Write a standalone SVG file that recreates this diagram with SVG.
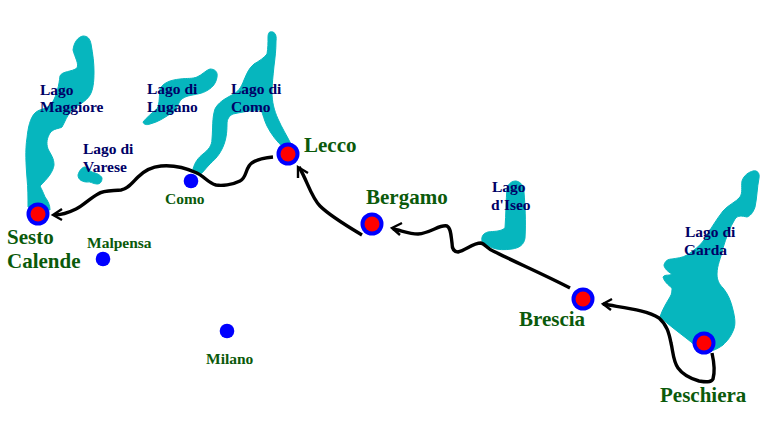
<svg xmlns="http://www.w3.org/2000/svg" width="766" height="436" viewBox="0 0 766 436">
<defs>
<style>
.lake{fill:#06b6be;stroke:#06b6be;stroke-width:1;stroke-linejoin:round}
.lt{font:bold 15.5px "Liberation Serif",serif;fill:#000066}
.sm{font:bold 15.5px "Liberation Serif",serif;fill:#0b5a0b}
.big{font:bold 21px "Liberation Serif",serif;fill:#0b5a0b}
.conn{fill:none;stroke:#000;stroke-width:3.4;stroke-linecap:butt;stroke-linejoin:round}
.head{fill:none;stroke:#000;stroke-width:2.4}
.outer{fill:#0000ff}
.inner{fill:#ff0000}
</style>
</defs>
<rect width="766" height="436" fill="#fff"/>
<g id="lakes">
<path id="lago-maggiore" class="lake" d="M73 50C74 42 78 37 83 36C88 36 90 39 91 44C93 55 94 63 94 72C94 82 93 90 90 95C86 102 76 106 72 110C67 115 65 122 62 127C59 129 54 128 50 133C47 138 46 143 48 149C51 155 54 158 54 165C53 172 48 178 40 186C42 190 43 192 45 197C48 201 50 205 50 210L28 207C28 198 28 188 27 178C26 165 25 150 27 138C28 128 30 118 35 113C40 108 47 110 52 103C57 95 59 85 60 76C62 71 72 72 77 68C79 63 75 58 73 50Z"/>
<path id="lago-lugano" class="lake" d="M143 122C147 117 152 113 157 109C160 103 159 95 160 89C163 83 170 80 180 79C188 78 192 79 197 77C202 75 206 70 210 69C215 69 218 72 217 77C216 83 213 87 208 90C202 94 196 94 188 96C182 98 180 100 178 105C176 110 174 112 170 114C164 118 158 122 150 124C147 125 144 125 143 122Z"/>
<path id="lago-como" class="lake" d="M270 32C274 31 277 34 276 41C276 50 275 58 274 66C273 76 272 84 272 92C272 102 274 110 278 119C282 128 287 136 291 144L284 148C277 142 271 134 267 126C264 120 263 114 261 110C253 110 242 112 233 114C229 116 227 119 227 124C227 133 226 141 222 149C218 157 214 160 209 165C205 169 203 173 199 175C196 175 193 172 193 169C195 162 198 158 203 154C208 150 212 146 212 139C213 128 212 118 215 109C218 103 224 99 232 95C238 92 241 88 244 80C247 73 249 68 254 64C259 61 264 58 267 54C268 48 268 43 268 37C268 34 269 32 270 32Z"/>
<path id="lago-varese" class="lake" d="M78 175C79 171 82 167 85 167C88 168 89 171 92 172C96 173 101 175 102 178C102 182 100 184 97 184C93 184 90 181 87 182C83 182 78 180 78 175Z"/>
<path id="lago-iseo" class="lake" d="M505 228C506 214 506 200 507 188C509 183 512 181 516 181C521 182 524 186 524 192C525 205 526 222 525 238C524 245 519 248 512 249C505 250 498 250 493 248C488 246 484 244 482 241C481 236 484 233 488 232C494 231 500 232 505 228Z"/>
<path id="lago-garda" class="lake" d="M753 171C757 170 760 173 759 178C757 188 757 198 755 207C753 213 750 216 747 217C742 216 738 215 735 219C730 227 726 238 723 248C721 258 717 265 717 274C717 280 719 284 723 288C728 294 731 301 733 310C735 318 736 325 733 331C730 338 727 341 723 345C716 350 710 352 704 352C698 349 693 343 686 338C677 331 669 325 660 317C662 310 667 302 670 297C672 294 672 290 672 288C668 285 664 281 663 277C665 274 670 276 672 274C668 272 664 268 664 265C665 261 668 259 672 259C677 258 682 258 687 255C693 251 700 246 704 240C710 230 716 220 723 211C728 205 736 202 740 197C743 192 741 187 742 181C744 175 749 172 753 171Z"/>
</g>
<g id="connectors">
<path class="conn" d="M712 353C714 362 715 372 713 379C711 383 705 382 699 381C692 379 683 375 678 368C673 361 673 351 671 343C669 333 667 325 659 318C647 310 625 308 603 304"/>
<path class="head" d="M612 299L603 304L611 310"/>
<path class="conn" d="M570 288C545 275 515 262 493 251C488 249 485 244 481 243C473 243 466 250 458 252C453 252 452 248 452 243C451 236 451 228 447 226C440 224 431 233 418 234C409 234 400 230 393 229"/>
<path class="head" d="M402 223L392 228L400 235"/>
<path class="conn" d="M362 235C347 226 330 216 320 206C311 197 307 180 299 167"/>
<path class="head" d="M298 178L298 167L308 173"/>
<path class="conn" d="M273 157C262 158 253 160 249 166C245 172 246 178 240 181C232 185 222 186 216 185C208 183 204 176 197 173C186 168 172 165 161 166C150 167 144 171 138 177C132 183 128 189 121 190C112 191 104 190 98 194C89 199 84 205 76 209C68 213 60 215 54 215"/>
<path class="head" d="M62 209L53 215L62 220"/>
</g>
<g id="node-sesto"><circle class="outer" cx="38" cy="214" r="11.5"/><circle class="inner" cx="38" cy="214" r="7.5"/><text class="big" x="7" y="244">Sesto</text><text class="big" x="7" y="268">Calende</text></g>
<g id="node-lecco"><circle class="outer" cx="288" cy="154" r="11.5"/><circle class="inner" cx="288" cy="154" r="7.5"/><text class="big" x="304" y="152">Lecco</text></g>
<g id="node-bergamo"><circle class="outer" cx="372" cy="224" r="11.5"/><circle class="inner" cx="372" cy="224" r="7.5"/><text class="big" x="366" y="204">Bergamo</text></g>
<g id="node-brescia"><circle class="outer" cx="583" cy="299" r="11.5"/><circle class="inner" cx="583" cy="299" r="7.5"/><text class="big" x="519" y="326">Brescia</text></g>
<g id="node-peschiera"><circle class="outer" cx="704" cy="343" r="11.5"/><circle class="inner" cx="704" cy="343" r="7.5"/><text class="big" x="660" y="402">Peschiera</text></g>
<g id="node-como"><circle class="outer" cx="191" cy="181" r="7.3"/><text class="sm" x="165" y="204">Como</text></g>
<g id="node-malpensa"><circle class="outer" cx="103" cy="259" r="7.3"/><text class="sm" x="87" y="248">Malpensa</text></g>
<g id="node-milano"><circle class="outer" cx="227" cy="331" r="7.3"/><text class="sm" x="206" y="364">Milano</text></g>
<g id="lake-labels">
<text class="lt" x="40" y="95">Lago</text><text class="lt" x="40" y="112">Maggiore</text>
<text class="lt" x="147" y="94">Lago di</text><text class="lt" x="147" y="112">Lugano</text>
<text class="lt" x="231" y="94">Lago di</text><text class="lt" x="231" y="112">Como</text>
<text class="lt" x="83" y="154">Lago di</text><text class="lt" x="83" y="172">Varese</text>
<text class="lt" x="492" y="192">Lago</text><text class="lt" x="491" y="210">d'Iseo</text>
<text class="lt" x="685" y="237">Lago di</text><text class="lt" x="684" y="255">Garda</text>
</g>
</svg>
